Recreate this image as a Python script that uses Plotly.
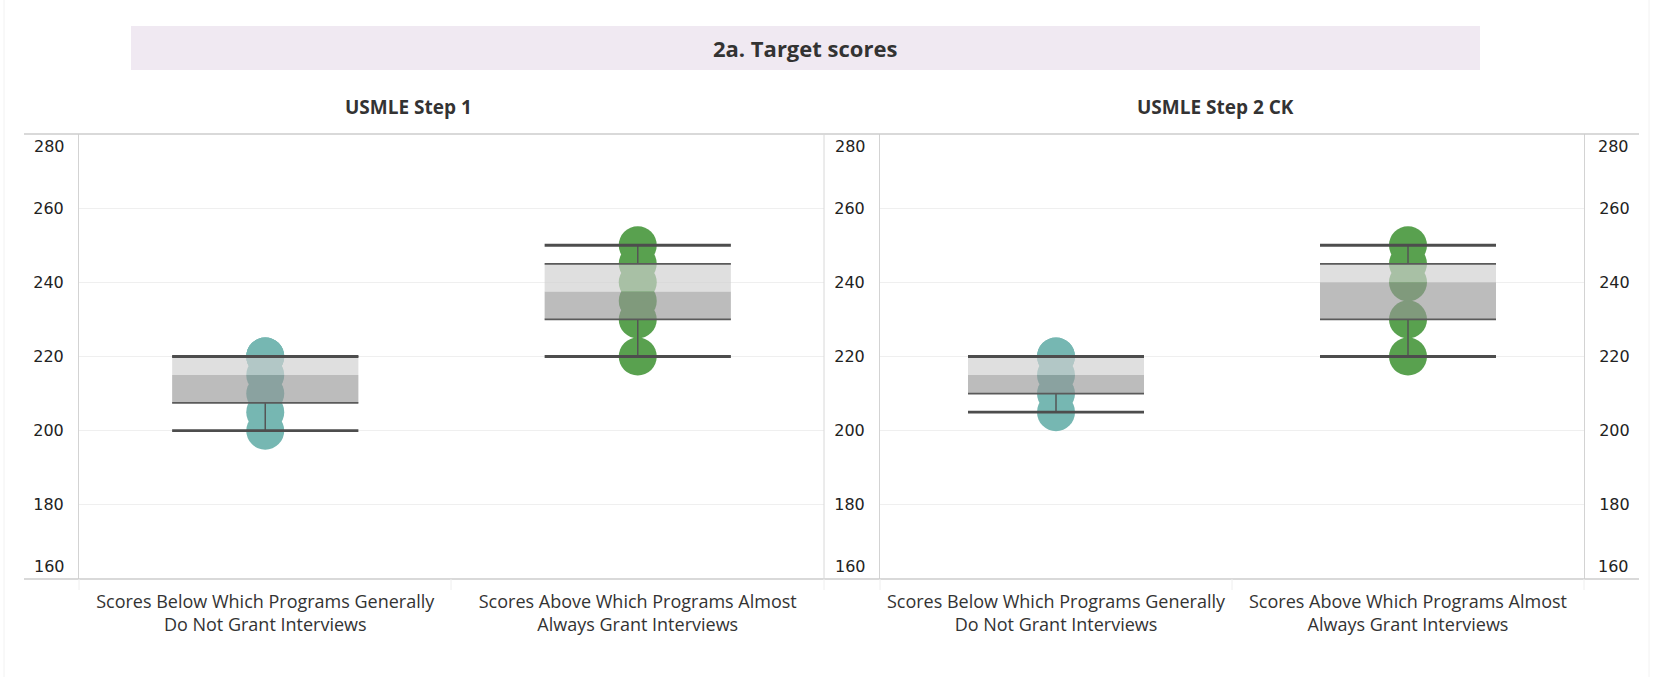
import plotly.graph_objects as go

W, H = 1679, 677

# ---------------- data ----------------
title_text = "2a. Target scores"
panel_titles = ["USMLE Step 1", "USMLE Step 2 CK"]
categories = [
    "Scores Below Which Programs Generally<br>Do Not Grant Interviews",
    "Scores Above Which Programs Almost<br>Always Grant Interviews",
]
y_ticks = [160, 180, 200, 220, 240, 260, 280]

step1_below = [200, 205, 210, 215, 220, 220, 220]
step1_above = [220, 230, 235, 240, 245, 250]
step2_below = [205, 210, 215, 220, 220]
step2_above = [220, 230, 240, 245, 250]

dot_colors = ["#76b7b2", "#59a14f"]

panels = [[step1_below, step1_above], [step2_below, step2_above]]


def five_numbers(vals):
    s = sorted(vals)
    n = len(s)

    def med(a):
        m = len(a)
        return a[m // 2] if m % 2 else (a[m // 2 - 1] + a[m // 2]) / 2

    half = (n + 1) // 2
    return s[0], med(s[:half]), med(s), med(s[n - half:]), s[-1]


def px_x(p):
    return p / W


def px_y(p):
    return 1 - p / H


fig = go.Figure()

HW = 0.25  # half box width in category units
axis_names = [("x", "y"), ("x2", "y2")]

for p, series in enumerate(panels):
    xa, ya = axis_names[p]
    for i, vals in enumerate(series):
        mn, q1, md, q3, mx = five_numbers(vals)
        common = dict(xaxis=xa, yaxis=ya, showlegend=False, hoverinfo="skip")
        # dots
        fig.add_trace(go.Scatter(x=[i] * len(vals), y=vals, mode="markers",
                                 marker=dict(size=38, color=dot_colors[i], line=dict(width=0)),
                                 **common))
        # lower (dark) band
        fig.add_trace(go.Scatter(x=[i - HW, i + HW, i + HW, i - HW, i - HW],
                                 y=[q1, q1, md, md, q1], mode="lines", fill="toself",
                                 fillcolor="rgba(150,150,150,0.64)", line=dict(width=0),
                                 **common))
        # upper (light) band
        fig.add_trace(go.Scatter(x=[i - HW, i + HW, i + HW, i - HW, i - HW],
                                 y=[md, md, q3, q3, md], mode="lines", fill="toself",
                                 fillcolor="rgba(208,208,208,0.67)", line=dict(width=0),
                                 **common))
        # whisker connectors
        fig.add_trace(go.Scatter(x=[i, i, None, i, i], y=[q3, mx, None, mn, q1],
                                 mode="lines", line=dict(color="#555555", width=1.5),
                                 **common))
        # box edges
        fig.add_trace(go.Scatter(x=[i - HW, i + HW, None, i - HW, i + HW],
                                 y=[q1, q1, None, q3, q3], mode="lines",
                                 line=dict(color="#5a5a5a", width=1.7), **common))
        # whisker caps
        fig.add_trace(go.Scatter(x=[i - HW, i + HW, None, i - HW, i + HW],
                                 y=[mn, mn, None, mx, mx], mode="lines",
                                 line=dict(color="#4d4d4d", width=2.8), **common))

ydom = [px_y(579), px_y(134)]
tick_font = dict(family="DejaVu Sans", size=16, color="#222222")
cat_font = dict(family="Open Sans", size=18, color="#333333")
inner_text = [str(v) if v not in (y_ticks[0], y_ticks[-1]) else "" for v in y_ticks]

xcommon = dict(range=[-0.5, 1.5], tickvals=[0, 1], ticktext=categories, showgrid=False,
               zeroline=False, showline=False, ticks="", tickfont=cat_font,
               ticklabelstandoff=10, fixedrange=True)
ycommon = dict(range=[y_ticks[0], y_ticks[-1]], tickvals=y_ticks, ticktext=inner_text,
               showgrid=True, gridcolor="#efefef", gridwidth=1, zeroline=False,
               showline=True, linecolor="#d3d3d3", linewidth=1, ticks="",
               tickfont=tick_font, ticklabelstandoff=11, domain=ydom, fixedrange=True)

fig.update_layout(
    width=W, height=H, autosize=False,
    margin=dict(l=0, r=0, t=0, b=0, pad=0),
    paper_bgcolor="white", plot_bgcolor="white",
    xaxis=dict(domain=[px_x(79), px_x(824)], anchor="y", **xcommon),
    xaxis2=dict(domain=[px_x(880), px_x(1584)], anchor="y2", **xcommon),
    yaxis=dict(anchor="x", side="left", **ycommon),
    yaxis2=dict(anchor="x2", side="left", **ycommon),
    yaxis3=dict(anchor="x2", side="right", overlaying="y2",
                **{k: v for k, v in ycommon.items() if k not in ("showgrid",)}, showgrid=False),
)

# layout decorations (borders, title band)
shapes = [
    dict(type="rect", xref="paper", yref="paper", x0=px_x(131), x1=px_x(1480),
         y0=px_y(70), y1=px_y(26), fillcolor="#f0e9f2", line=dict(width=0), layer="below"),
    dict(type="line", xref="paper", yref="paper", x0=px_x(24), x1=px_x(1639),
         y0=px_y(134), y1=px_y(134), line=dict(color="#cdcdcd", width=1.3)),
    dict(type="line", xref="paper", yref="paper", x0=px_x(24), x1=px_x(1639),
         y0=px_y(579), y1=px_y(579), line=dict(color="#cdcdcd", width=1.3)),
    dict(type="line", xref="paper", yref="paper", x0=px_x(824), x1=px_x(824),
         y0=px_y(579), y1=px_y(134), line=dict(color="#d8d8d8", width=1)),
    dict(type="line", xref="paper", yref="paper", x0=px_x(4), x1=px_x(4),
         y0=px_y(677), y1=px_y(0), line=dict(color="#f2f2f2", width=1)),
    dict(type="line", xref="paper", yref="paper", x0=px_x(1649), x1=px_x(1649),
         y0=px_y(677), y1=px_y(0), line=dict(color="#f2f2f2", width=1)),
]
for sx in (79, 451, 824, 880, 1232, 1584):
    shapes.append(dict(type="line", xref="paper", yref="paper", x0=px_x(sx), x1=px_x(sx),
                       y0=px_y(590), y1=px_y(579), line=dict(color="#eeeeee", width=1)))
fig.update_layout(shapes=shapes)

annotations = [
    dict(text="<b>" + title_text + "</b>", xref="paper", yref="paper", x=px_x(805),
         y=px_y(48), showarrow=False, xanchor="center", yanchor="middle",
         font=dict(family="Open Sans", size=22, color="#333333")),
    dict(text="<b>" + panel_titles[0] + "</b>", xref="paper", yref="paper", x=px_x(408),
         y=px_y(107), showarrow=False, xanchor="center", yanchor="middle",
         font=dict(family="Open Sans", size=19, color="#333333")),
    dict(text="<b>" + panel_titles[1] + "</b>", xref="paper", yref="paper", x=px_x(1215),
         y=px_y(107), showarrow=False, xanchor="center", yanchor="middle",
         font=dict(family="Open Sans", size=19, color="#333333")),
]
# end tick labels pulled inward (Tableau style)
for yref, xpix, anchor in (("y", 79, "right"), ("y2", 880, "right"), ("y3", 1584, "left")):
    for v, shift in ((y_ticks[-1], -13), (y_ticks[0], 13)):
        annotations.append(dict(text=str(v), xref="paper", yref=yref, x=px_x(xpix), y=v,
                                yshift=shift, xshift=(-12 if anchor == "right" else 12),
                                showarrow=False, xanchor=anchor, yanchor="middle",
                                font=tick_font))
fig.update_layout(annotations=annotations)

fig.write_html("out.html", config={"displayModeBar": False},
               post_script="document.body.style.margin='0';document.body.style.overflow='hidden';")
